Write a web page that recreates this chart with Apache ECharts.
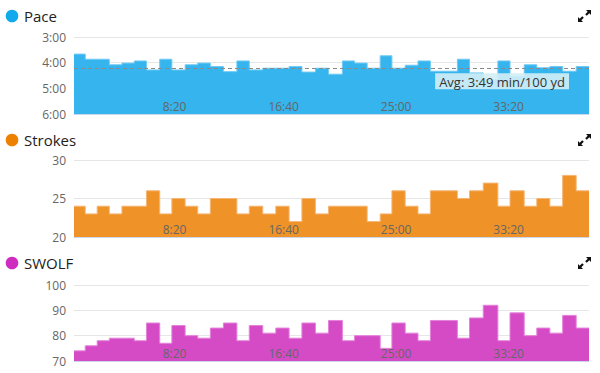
<!DOCTYPE html>
<html>
<head>
<meta charset="utf-8">
<script src="https://cdn.jsdelivr.net/npm/echarts@6/dist/echarts.min.js"></script>
<style>
html,body{margin:0;padding:0;background:#fff;}
#chart{width:600px;height:373px;}
</style>
</head>
<body>
<div id="chart"></div>
<script>
// Length durations in seconds (25 yd lengths)
const durations = [50,53,54,56,55,54,59,54,59,56,56,58,60,55,60,58,59,57,60,58,62,54,56,58,52,59,57,55,60,60,54,61,65,54,63,56,58,57,60,57];
// Pace as plotted (seconds per 100 yd)
const pace = [220,232,232,245,241,236,257,232,257,245,241,249,261,236,257,253,253,249,262,253,267,236,241,253,224,253,246,236,260,260,232,264,280,236,272,245,252,249,260,249];
const strokes = [24,23,24,23,24,24,26,23,25,24,23,25,25,23,24,23,24,22,25,23,24,24,24,22,23,26,24,23,26,26,25,26,27,24,26,24,25,24,28,26];
const swolf = [74,76,78,79,79,78,85,77,84,80,79,83,85,78,84,81,83,79,85,81,86,78,80,80,75,85,81,78,86,86,79,87,92,78,89,80,83,81,88,83];
const paceAvgLine = 253;
const paceAvgText = 'Avg: 3:49 min/100 yd';
const titles = ['Pace', 'Strokes', 'SWOLF'];
const dotColors = ['#12a8ec', '#ee8000', '#cf2dbf'];
const fillColors = ['#35b4ed', '#ef9228', '#d54bc6'];
const edgeColors = ['#6fcaf3', '#f5b673', '#e482da'];

const starts = [];
let acc = 0;
durations.forEach(d => { starts.push(acc); acc += d; });
const total = acc;
function stepData(vals) {
  const out = vals.map((v, i) => [starts[i], v]);
  out.push([total, vals[vals.length - 1]]);
  return out;
}
function mmss(v) {
  const m = Math.floor(v / 60), s = Math.round(v % 60);
  return m + ':' + (s < 10 ? '0' : '') + s;
}

const FONT = 'Open Sans';
const grids = [
  {left: 74, right: 11, top: 37, height: 77},
  {left: 74, right: 11, top: 160, height: 77},
  {left: 74, right: 11, top: 285, height: 76}
];
const yAxes = [
  {min: 180, max: 360, interval: 60, inverse: true, fmt: mmss},
  {min: 20, max: 30, interval: 5, fmt: v => v},
  {min: 70, max: 100, interval: 10, fmt: v => v}
];
const titleY = [16, 140, 263];

const chart = echarts.init(document.getElementById('chart'), null, {renderer: 'svg'});

const xAxis = grids.map((g, i) => ({
  type: 'value', gridIndex: i, min: 0, max: total, interval: 500,
  axisLine: {show: true, onZero: false, lineStyle: {color: '#ccd6eb', width: 1}},
  axisTick: {show: false},
  splitLine: {show: false},
  axisLabel: {
    inside: true, margin: 2, align: 'right', showMinLabel: false, showMaxLabel: false,
    color: '#666', fontSize: 12, fontFamily: FONT, formatter: mmss
  },
  z: 5
}));
const yAxis = yAxes.map((a, i) => ({
  type: 'value', gridIndex: i, min: a.min, max: a.max, interval: a.interval, inverse: !!a.inverse,
  axisLine: {show: false}, axisTick: {show: false},
  splitLine: {show: true, lineStyle: {color: '#e6e6e6', width: 1}},
  axisLabel: {color: '#666', fontSize: 12, fontFamily: FONT, margin: 8, padding: [4, 0, 0, 0], formatter: a.fmt}
}));

const seriesVals = [pace, strokes, swolf];
const series = seriesVals.map((vals, i) => {
  const s = {
    type: 'line', xAxisIndex: i, yAxisIndex: i, step: 'end', symbol: 'none',
    data: stepData(vals), silent: true, animation: false,
    lineStyle: {color: edgeColors[i], width: 1},
    areaStyle: {color: fillColors[i], opacity: 1, origin: i === 0 ? 'end' : 'start'},
    z: 2
  };
  if (i === 0) {
    s.markLine = {
      silent: true, symbol: 'none', animation: false,
      lineStyle: {color: '#8a8a8a', type: [4, 3], width: 1},
      label: {
        show: true, position: 'insideEndBottom', formatter: paceAvgText,
        color: '#333', fontSize: 13, fontFamily: FONT,
        backgroundColor: 'rgba(210,238,245,0.9)', padding: [2, 4, 1, 4], distance: [20, 5]
      },
      data: [{yAxis: paceAvgLine}]
    };
  }
  return s;
});

const graphic = [];
titles.forEach((t, i) => {
  graphic.push({type: 'circle', shape: {cx: 12, cy: titleY[i], r: 6.3}, style: {fill: dotColors[i]}, silent: true});
  graphic.push({type: 'text', x: 24, y: titleY[i], style: {text: t, fill: '#222', font: '15px "Open Sans"', textVerticalAlign: 'middle'}, silent: true});
  const y0 = titleY[i] - 6;
  // expand icon
  graphic.push({type: 'polygon', shape: {points: [[591, y0], [591, y0 + 5], [589.3, y0 + 3.3], [586.8, y0 + 5.8], [585.2, y0 + 4.2], [587.7, y0 + 1.7], [586, y0]]}, style: {fill: '#111'}, silent: true});
  graphic.push({type: 'polygon', shape: {points: [[578, y0 + 12], [578, y0 + 7], [579.7, y0 + 8.7], [582.2, y0 + 6.2], [583.8, y0 + 7.8], [581.3, y0 + 10.3], [583, y0 + 12]]}, style: {fill: '#111'}, silent: true});
});

chart.setOption({
  animation: false,
  backgroundColor: '#fff',
  grid: grids,
  xAxis: xAxis,
  yAxis: yAxis,
  series: series,
  graphic: graphic
});
</script>
</body>
</html>
